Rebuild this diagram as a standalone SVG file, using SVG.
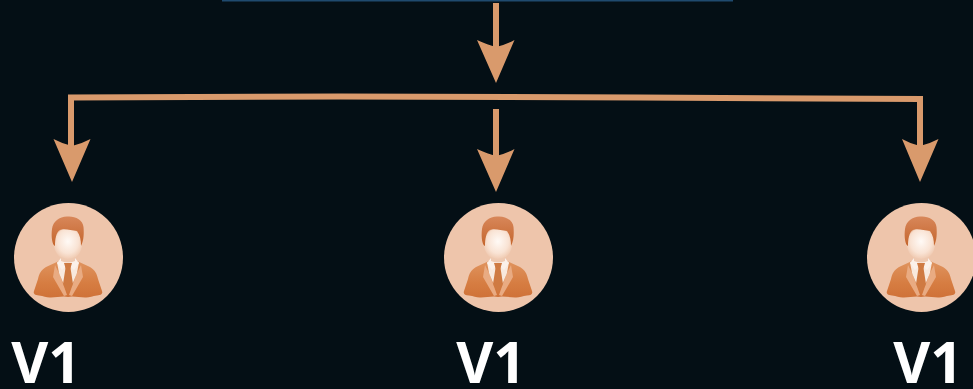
<svg xmlns="http://www.w3.org/2000/svg" xmlns:xlink="http://www.w3.org/1999/xlink" width="973" height="389" viewBox="0 0 973 389">
<style>
.line{fill:none;stroke:#d99a6c;stroke-width:6}
.head{fill:#d99a6c}
.disc{fill:#eec5ab}
.label{font-family:"Open Sans","Liberation Sans",sans-serif;font-weight:700;font-size:57px;fill:#fff;text-anchor:middle}
</style>
<defs>
<linearGradient id="suit" x1="0" y1="0" x2="0" y2="1"><stop offset="0" stop-color="#e0945f"/><stop offset=".6" stop-color="#d67d42"/><stop offset="1" stop-color="#cf7238"/></linearGradient>
<linearGradient id="hair" x1="0" y1="0" x2="0" y2="1"><stop offset="0" stop-color="#d8875a"/><stop offset="1" stop-color="#c4652c"/></linearGradient>
<radialGradient id="face" cx=".5" cy=".42" r=".62"><stop offset="0" stop-color="#fffaf6"/><stop offset=".6" stop-color="#f9e3d4"/><stop offset="1" stop-color="#edc2a6"/></radialGradient>
<g id="person">
<path fill="url(#suit)" d="M-9 4L-22 10C-27 13-29 17-30 22L-34 34C-35 37-33 38-29 38.500C-24 39-21 41-17 40.500L-4 39.500L0 40L4 39.500L17 40.500C21 41 24 39 29 38.500C33 38 35 37 34 34L30 22C29 17 27 13 22 10L9 4Z"/>
<path fill="#e9ab82" d="M-13 8L-8 18L-1 38L-4 39L-15 20ZM13 8L8 18L1 38L4 39L15 20Z"/>
<path fill="#f8e9de" d="M-11 5L-3 9L-1 16L-4 28L-9 16ZM11 5L3 9L1 16L4 28L9 16Z"/>
<path fill="#fbf1ea" d="M-7 1L7 1L11 6L6 13L0 7L-6 13L-11 6Z"/>
<path fill="#cf7a42" d="M-4 6L4 6L2.500 11L5 27L0 36L-5 27L-2.500 11Z"/>
<ellipse cx="0" cy="-13" rx="14" ry="16" fill="url(#face)"/>
<path fill="#eec9b1" d="M-7 0Q0 4 7 0L7 4Q0 7-7 4Z"/>
<path fill="url(#hair)" d="M-13-11C-16-12-17-21-16-28C-15-36-8-41 0-40.500C7-41 15-37 15.500-30C16-24 16-17 13-11C13-17 12-22 9-26C3-27-5-29-8-27C-12-25-13-17-13-11Z"/>
</g>
</defs>
<rect width="973" height="389" fill="#040f15"/>
<rect id="top-bar" x="222" y="0" width="511" height="1.500" fill="#1f4a6e"/>
<g id="connectors">
<path class="line" d="M496 3V50"/>
<path class="head" d="M477 40Q488 45 496 47Q505 45 514.500 40L496 83Z"/>
<path class="line" d="M71 150V97.500L340 96.500L640 97.500L920 99V150"/>
<path class="head" d="M53.500 139Q63 144 72 146Q81 144 90.500 139L72 182Z"/>
<path class="head" d="M902 139Q911 144 920 146Q929 144 938.500 139L920 182Z"/>
<path class="line" d="M496 109V160"/>
<path class="head" d="M477 149Q488 154 496 156Q505 154 514.500 149L496 192Z"/>
</g>
<g id="node-left">
<circle class="disc" cx="68.500" cy="257.500" r="54.500"/>
<use href="#person" xlink:href="#person" x="68" y="257"/>
<text class="label" x="46" y="383">V1</text>
</g>
<g id="node-center">
<circle class="disc" cx="498.500" cy="257.500" r="54.500"/>
<use href="#person" xlink:href="#person" x="498" y="257"/>
<text class="label" x="491" y="383">V1</text>
</g>
<g id="node-right">
<circle class="disc" cx="921.500" cy="257.500" r="54.500"/>
<use href="#person" xlink:href="#person" x="921" y="257"/>
<text class="label" x="928" y="383">V1</text>
</g>
</svg>
